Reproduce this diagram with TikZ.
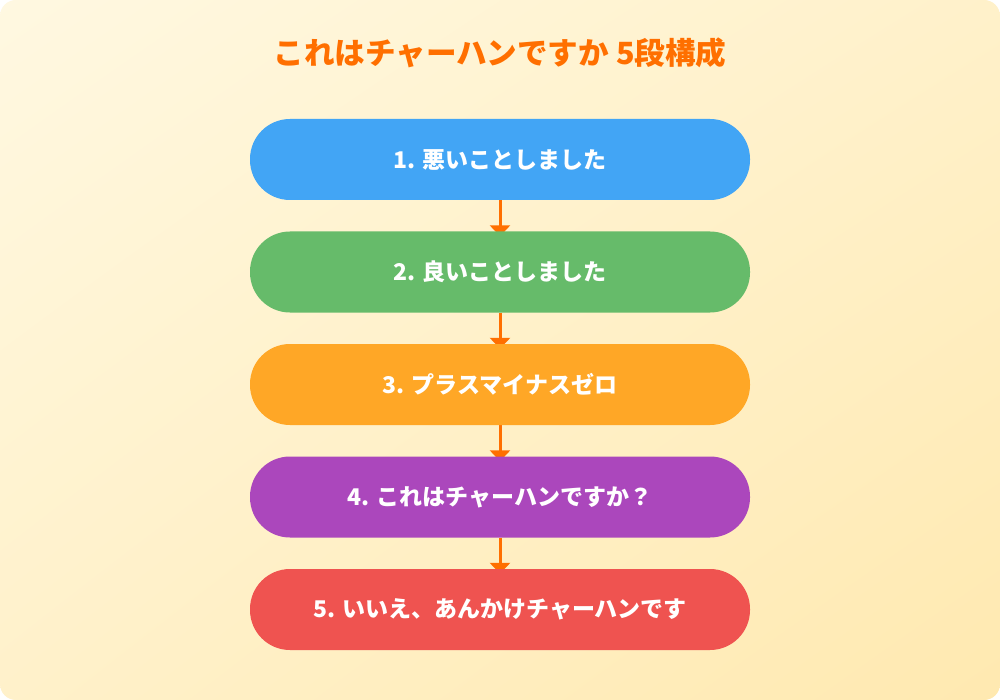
\documentclass[tikz,border=0pt]{standalone}
\usepackage{fontspec}
\setmainfont{Noto Sans CJK JP}
\usetikzlibrary{arrows.meta,shadings}
\definecolor{bgA}{HTML}{FFF8E1}
\definecolor{bgB}{HTML}{FFE9B0}
\definecolor{bgC}{HTML}{FFF1CA}
\definecolor{titlecol}{HTML}{FF6F00}
\definecolor{arrowcol}{HTML}{FF6F00}
\definecolor{c1}{HTML}{42A5F5}
\definecolor{c2}{HTML}{66BB6A}
\definecolor{c3}{HTML}{FFA726}
\definecolor{c4}{HTML}{AB47BC}
\definecolor{c5}{HTML}{EF5350}
\pgfdeclarelayer{bg}
\pgfdeclarelayer{mid}
\pgfsetlayers{bg,mid,main}
\tikzset{
  stepbox/.style={rectangle, rounded corners=40pt, minimum width=500pt, minimum height=81pt,
    inner sep=0pt, text=white, font=\fontsize{23}{27}\selectfont\bfseries},
  flowarrow/.style={draw=arrowcol, line width=3pt, -{Triangle[width=20pt,length=11pt]}, shorten >=-5pt},
  titlestyle/.style={text=titlecol, font=\fontsize{30.6}{36}\selectfont\bfseries}
}
\begin{document}
\begin{tikzpicture}[x=1pt,y=-1pt]
\useasboundingbox (0,0) rectangle (1000,700);
\begin{pgfonlayer}{bg}
\fill[white] (0,0) rectangle (1000,700);
\shade[rounded corners=16pt, upper left=bgA, lower right=bgB, upper right=bgC, lower left=bgC] (0,0) rectangle (1000,700);
\end{pgfonlayer}
\node[titlestyle] (title) at (500,53) {これはチャーハンですか 5段構成};
\node[stepbox, fill=c1] (s1) at (500,159.5) {1. 悪いことしました};
\node[stepbox, fill=c2] (s2) at (500,272) {2. 良いことしました};
\node[stepbox, fill=c3] (s3) at (500,384.5) {3. プラスマイナスゼロ};
\node[stepbox, fill=c4] (s4) at (500,497) {4. これはチャーハンですか？};
\node[stepbox, fill=c5] (s5) at (500,609.5) {5. いいえ、あんかけチャーハンです};
\begin{pgfonlayer}{mid}
\draw[flowarrow] (s1.south) -- (s2.north);
\draw[flowarrow] (s2.south) -- (s3.north);
\draw[flowarrow] (s3.south) -- (s4.north);
\draw[flowarrow] (s4.south) -- (s5.north);
\end{pgfonlayer}
\end{tikzpicture}
\end{document}
